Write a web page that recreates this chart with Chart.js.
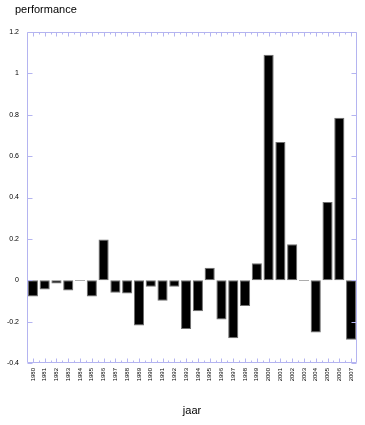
<!DOCTYPE html>
<html>
<head>
<meta charset="utf-8">
<script src="https://cdn.jsdelivr.net/npm/chart.js@4.4.0/dist/chart.umd.min.js"></script>
<style>
  html, body { margin: 0; padding: 0; background: #ffffff; }
  #wrap { width: 365px; height: 425px; position: relative; }
</style>
</head>
<body>
<div id="wrap"><canvas id="c" width="365" height="425"></canvas></div>
<script>
const years = ['1980','1981','1982','1983','1984','1985','1986','1987','1988','1989',
  '1990','1991','1992','1993','1994','1995','1996','1997','1998','1999',
  '2000','2001','2002','2003','2004','2005','2006','2007'];
const performance = [-0.079,-0.045,-0.016,-0.05,-0.004,-0.079,0.197,-0.06,-0.064,-0.219,
  -0.031,-0.099,-0.031,-0.236,-0.15,0.061,-0.19,-0.28,-0.124,0.082,
  1.09,0.668,0.174,-0.004,-0.252,0.378,0.786,-0.288];
const yTicks = [-0.4,-0.2,0,0.2,0.4,0.6,0.8,1,1.2];
const yTitle = 'performance';
const xTitle = 'jaar';

const FONT = "'Liberation Sans', Arial, Helvetica, sans-serif";
const AXIS_COLOR = '#b4b4f0';

const framePlugin = {
  id: 'frame',
  afterDatasetsDraw(chart) {
    const ctx = chart.ctx;
    const a = chart.chartArea;
    const xs = chart.scales.x;
    const ys = chart.scales.y;
    ctx.save();
    ctx.strokeStyle = AXIS_COLOR;
    ctx.lineWidth = 1;
    const L = Math.round(a.left) + 0.5, R = Math.round(a.right) - 0.5;
    const T = Math.round(a.top) + 0.5, B = Math.round(a.bottom) - 0.5;
    ctx.beginPath();
    ctx.rect(L, T, R - L, B - T);
    yTicks.forEach(v => {
      const y = Math.round(ys.getPixelForValue(v)) + 0.5;
      ctx.moveTo(L, y); ctx.lineTo(L + 5, y);
      ctx.moveTo(R, y); ctx.lineTo(R - 5, y);
    });
    for (let i = 0; i < years.length; i++) {
      const c = Math.round(xs.getPixelForValue(i)) + 0.5;
      ctx.moveTo(c, B); ctx.lineTo(c, B - 4);
      ctx.moveTo(c, T); ctx.lineTo(c, T + 4);
      if (i < years.length - 1) {
        const b = Math.round((xs.getPixelForValue(i) + xs.getPixelForValue(i + 1)) / 2) + 0.5;
        ctx.moveTo(b, B); ctx.lineTo(b, B - 2);
        ctx.moveTo(b, T); ctx.lineTo(b, T + 2);
      }
    }
    ctx.stroke();
    // y-axis title (horizontal, top-left)
    ctx.fillStyle = '#000000';
    ctx.font = '11px ' + FONT;
    ctx.textAlign = 'left';
    ctx.textBaseline = 'middle';
    ctx.fillText(yTitle, 15, 10);
    ctx.restore();
  }
};

new Chart(document.getElementById('c'), {
  type: 'bar',
  data: {
    labels: years,
    datasets: [{
      data: performance,
      backgroundColor: '#000000',
      borderColor: '#6e6e6e',
      borderWidth: 1,
      borderSkipped: false,
      barPercentage: 0.86,
      categoryPercentage: 1.0
    }]
  },
  options: {
    responsive: false,
    animation: false,
    devicePixelRatio: 1,
    layout: { padding: { left: 0, right: 8, top: 32, bottom: 0 } },
    plugins: {
      legend: { display: false },
      tooltip: { enabled: false },
      title: { display: false }
    },
    scales: {
      x: {
        type: 'category',
        offset: true,
        grid: { display: false, drawTicks: false },
        border: { display: false },
        ticks: {
          autoSkip: false,
          minRotation: 90,
          maxRotation: 90,
          padding: 5,
          color: '#000000',
          font: { family: FONT, size: 6 }
        },
        title: {
          display: true,
          text: xTitle,
          color: '#000000',
          font: { family: FONT, size: 11 },
          padding: { top: 0, bottom: 7.4 }
        },
        afterFit(scale) { scale.height = 62; }
      },
      y: {
        type: 'linear',
        min: -0.4,
        max: 1.2,
        grid: { display: false, drawTicks: false },
        border: { display: false },
        afterBuildTicks(scale) { scale.ticks = yTicks.map(v => ({ value: v })); },
        ticks: {
          padding: 8,
          color: '#000000',
          font: { family: FONT, size: 7 },
          callback: (v) => String(Number(Number(v).toFixed(1)))
        },
        afterFit(scale) { scale.width = 27; }
      }
    }
  },
  plugins: [framePlugin]
});
</script>
</body>
</html>
